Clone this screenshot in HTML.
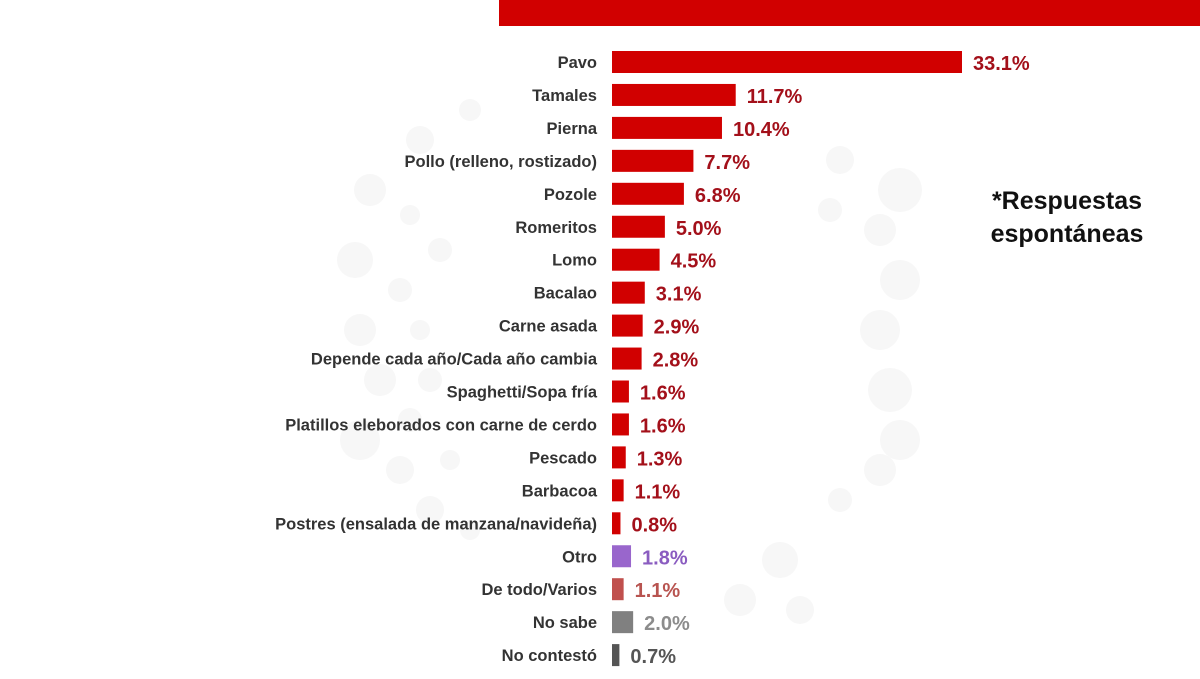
<!DOCTYPE html>
<html><head><meta charset="utf-8"><style>
body{margin:0;width:1200px;height:674px;background:#fff;overflow:hidden;font-family:"Liberation Sans",Arial,sans-serif;}
</style></head><body>
<svg id="chart" width="1200" height="674">
<g id="bg"></g>
<rect x="499" y="0" width="701" height="26" fill="#d10000"/>
<text x="1067" y="209" font-size="25" font-weight="bold" text-anchor="middle" fill="#111">*Respuestas</text>
<text x="1067" y="242" font-size="25" font-weight="bold" text-anchor="middle" fill="#111">espontáneas</text>
<g id="bars"></g>
</svg>
<script>
const categories=["Pavo","Tamales","Pierna","Pollo (relleno, rostizado)","Pozole","Romeritos","Lomo","Bacalao","Carne asada","Depende cada año/Cada año cambia","Spaghetti/Sopa fría","Platillos eleborados con carne de cerdo","Pescado","Barbacoa","Postres (ensalada de manzana/navideña)","Otro","De todo/Varios","No sabe","No contestó"];
const values=[33.1,11.7,10.4,7.7,6.8,5.0,4.5,3.1,2.9,2.8,1.6,1.6,1.3,1.1,0.8,1.8,1.1,2.0,0.7];
const labels=["33.1%","11.7%","10.4%","7.7%","6.8%","5.0%","4.5%","3.1%","2.9%","2.8%","1.6%","1.6%","1.3%","1.1%","0.8%","1.8%","1.1%","2.0%","0.7%"];
const ns="http://www.w3.org/2000/svg";
const x0=612, kx=350/33.1;
const xs=v=>v*kx;
const ys=i=>62+i*32.95;
function barColor(i){return i<15?"#d10000":["#9966cc","#c0504d","#808080","#555555"][i-15];}
function textColor(i){return i<15?"#a3101a":["#8a5cc0","#b85450","#8c8c8c","#555555"][i-15];}
const bg=document.getElementById('bg');
[[420,140,14],[470,110,11],[370,190,16],[410,215,10],[355,260,18],[440,250,12],[400,290,12],[360,330,16],[420,330,10],[380,380,16],[430,380,12],[360,440,20],[410,420,12],[400,470,14],[450,460,10],[430,510,14],[470,530,10],[840,500,12],[880,470,16],[900,440,20],[890,390,22],[880,330,20],[900,280,20],[880,230,16],[900,190,22],[840,160,14],[830,210,12],[780,560,18],[740,600,16],[800,610,14]].forEach(c=>{
 const e=document.createElementNS(ns,'circle');
 e.setAttribute('cx',c[0]);e.setAttribute('cy',c[1]);e.setAttribute('r',c[2]);e.setAttribute('fill','#f7f7f7');
 
 
 bg.appendChild(e);
});
const g=document.getElementById('bars');
categories.forEach((c,i)=>{
 const y=ys(i);
 const t=document.createElementNS(ns,'text');
 t.setAttribute('x',597);t.setAttribute('y',y+6);t.setAttribute('text-anchor','end');
 t.setAttribute('font-size','16.5');t.setAttribute('font-weight','bold');t.setAttribute('fill','#333');
 t.textContent=c;
 
 
 g.appendChild(t);
 const r=document.createElementNS(ns,'rect');
 const w=Math.max(xs(values[i]),7);
 r.setAttribute('x',x0);r.setAttribute('y',y-11);r.setAttribute('width',w);r.setAttribute('height',22);
 r.setAttribute('fill',barColor(i));
 
 
 g.appendChild(r);
 const v=document.createElementNS(ns,'text');
 v.setAttribute('x',x0+w+11);v.setAttribute('y',y+8);
 v.setAttribute('font-size','20');v.setAttribute('font-weight','bold');v.setAttribute('fill',textColor(i));
 v.textContent=labels[i];
 
 
 g.appendChild(v);
});
</script>
</body></html>
